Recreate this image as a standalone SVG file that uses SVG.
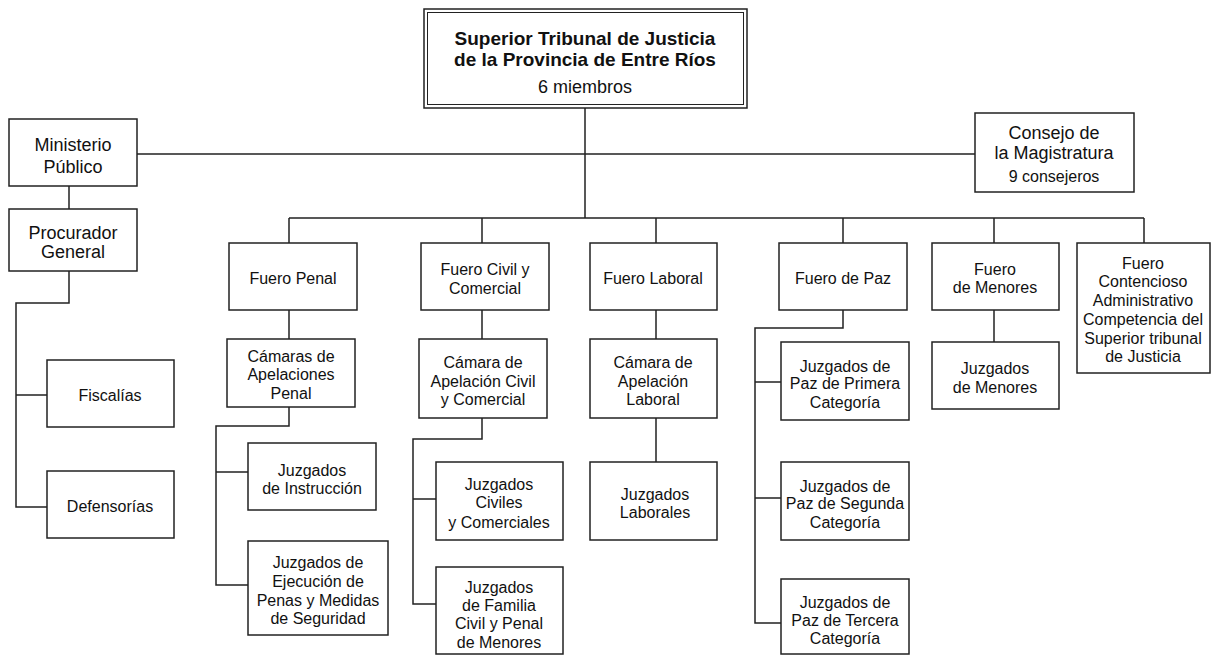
<svg xmlns="http://www.w3.org/2000/svg" width="1211" height="655" viewBox="0 0 1211 655">
<style>
.b{fill:#fff;stroke:#222;stroke-width:1.5}
.c{fill:none;stroke:#222;stroke-width:1.5}
text{font-family:"Liberation Sans",Arial,sans-serif;font-size:16px;fill:#111;text-anchor:middle}
.l{font-size:18px}
.t{font-size:19px;font-weight:bold}
</style>
<rect width="1211" height="655" fill="#fff"/>
<g id="connectors">
<path class="c" d="M585 108V218M137 154H975M289 218H1144M289 218V243M482 218V243M656 218V243M843 218V243M994 218V243M1144 218V243"/>
<path class="c" d="M69 186V209M69 271V303H16V507H47M16 395H47"/>
<path class="c" d="M289 310V339M289 407V426H216V585H248M216 472H248"/>
<path class="c" d="M482 310V339M482 418V439H413V604H436M413 499H436"/>
<path class="c" d="M656 310V339M656 418V462"/>
<path class="c" d="M843 310V328H755V623H781M755 382H781M755 498H781"/>
<path class="c" d="M994 310V342"/>
</g>
<g id="superior">
<rect class="b" x="424" y="9" width="323" height="99"/>
<rect x="427.5" y="12.5" width="316" height="92" fill="none" stroke="#222" stroke-width="1"/>
<text class="t" x="585" y="45">Superior Tribunal de Justicia</text>
<text class="t" x="585" y="66">de la Provincia de Entre Ríos</text>
<text class="l" x="585" y="93">6 miembros</text>
</g>
<g id="ministerio">
<rect class="b" x="9" y="119" width="128" height="67"/>
<text class="l" x="73" y="151">Ministerio</text>
<text class="l" x="73" y="173">Público</text>
</g>
<g id="procurador">
<rect class="b" x="9" y="209" width="128" height="62"/>
<text class="l" x="73" y="239">Procurador</text>
<text class="l" x="73" y="258">General</text>
</g>
<g id="consejo">
<rect class="b" x="975" y="113" width="159" height="79"/>
<text class="l" x="1054" y="139">Consejo de</text>
<text class="l" x="1054" y="159">la Magistratura</text>
<text x="1054" y="182">9 consejeros</text>
</g>
<g id="fiscalias">
<rect class="b" x="47" y="360" width="127" height="67"/>
<text x="110" y="401">Fiscalías</text>
</g>
<g id="defensorias">
<rect class="b" x="47" y="471" width="127" height="67"/>
<text x="110" y="512">Defensorías</text>
</g>
<g id="fuero-penal">
<rect class="b" x="229" y="243" width="128" height="67"/>
<text x="293" y="284">Fuero Penal</text>
</g>
<g id="camaras-penal">
<rect class="b" x="227" y="339" width="128" height="68"/>
<text x="291" y="362">Cámaras de</text>
<text x="291" y="380">Apelaciones</text>
<text x="291" y="399">Penal</text>
</g>
<g id="instruccion">
<rect class="b" x="248" y="443" width="128" height="67"/>
<text x="312" y="476">Juzgados</text>
<text x="312" y="494">de Instrucción</text>
</g>
<g id="ejecucion">
<rect class="b" x="248" y="541" width="140" height="94"/>
<text x="318" y="568">Juzgados de</text>
<text x="318" y="587">Ejecución de</text>
<text x="318" y="606">Penas y Medidas</text>
<text x="318" y="624">de Seguridad</text>
</g>
<g id="fuero-civil">
<rect class="b" x="421" y="243" width="128" height="67"/>
<text x="485" y="275">Fuero Civil y</text>
<text x="485" y="294">Comercial</text>
</g>
<g id="camara-civil">
<rect class="b" x="419" y="339" width="128" height="79"/>
<text x="483" y="368">Cámara de</text>
<text x="483" y="387">Apelación Civil</text>
<text x="483" y="405">y Comercial</text>
</g>
<g id="juzgados-civiles">
<rect class="b" x="436" y="462" width="127" height="78"/>
<text x="499" y="490">Juzgados</text>
<text x="499" y="508">Civiles</text>
<text x="499" y="528">y Comerciales</text>
</g>
<g id="juzgados-familia">
<rect class="b" x="436" y="567" width="127" height="87"/>
<text x="499" y="593">Juzgados</text>
<text x="499" y="611">de Familia</text>
<text x="499" y="629">Civil y Penal</text>
<text x="499" y="648">de Menores</text>
</g>
<g id="fuero-laboral">
<rect class="b" x="590" y="243" width="127" height="67"/>
<text x="653" y="284">Fuero Laboral</text>
</g>
<g id="camara-laboral">
<rect class="b" x="590" y="339" width="127" height="79"/>
<text x="653" y="368">Cámara de</text>
<text x="653" y="387">Apelación</text>
<text x="653" y="405">Laboral</text>
</g>
<g id="juzgados-laborales">
<rect class="b" x="590" y="462" width="127" height="78"/>
<text x="655" y="500">Juzgados</text>
<text x="655" y="518">Laborales</text>
</g>
<g id="fuero-paz">
<rect class="b" x="779" y="243" width="128" height="67"/>
<text x="843" y="284">Fuero de Paz</text>
</g>
<g id="paz-primera">
<rect class="b" x="781" y="342" width="128" height="78"/>
<text x="845" y="372">Juzgados de</text>
<text x="845" y="389">Paz de Primera</text>
<text x="845" y="408">Categoría</text>
</g>
<g id="paz-segunda">
<rect class="b" x="781" y="462" width="128" height="78"/>
<text x="845" y="492">Juzgados de</text>
<text x="845" y="509">Paz de Segunda</text>
<text x="845" y="528">Categoría</text>
</g>
<g id="paz-tercera">
<rect class="b" x="781" y="579" width="128" height="75"/>
<text x="845" y="608">Juzgados de</text>
<text x="845" y="626">Paz de Tercera</text>
<text x="845" y="644">Categoría</text>
</g>
<g id="fuero-menores">
<rect class="b" x="932" y="243" width="127" height="67"/>
<text x="995" y="275">Fuero</text>
<text x="995" y="293">de Menores</text>
</g>
<g id="juzgados-menores">
<rect class="b" x="932" y="342" width="127" height="67"/>
<text x="995" y="374">Juzgados</text>
<text x="995" y="393">de Menores</text>
</g>
<g id="contencioso">
<rect class="b" x="1077" y="243" width="133" height="130"/>
<text x="1143" y="269">Fuero</text>
<text x="1143" y="287">Contencioso</text>
<text x="1143" y="306">Administrativo</text>
<text x="1143" y="325">Competencia del</text>
<text x="1143" y="344">Superior tribunal</text>
<text x="1143" y="362">de Justicia</text>
</g>
</svg>
